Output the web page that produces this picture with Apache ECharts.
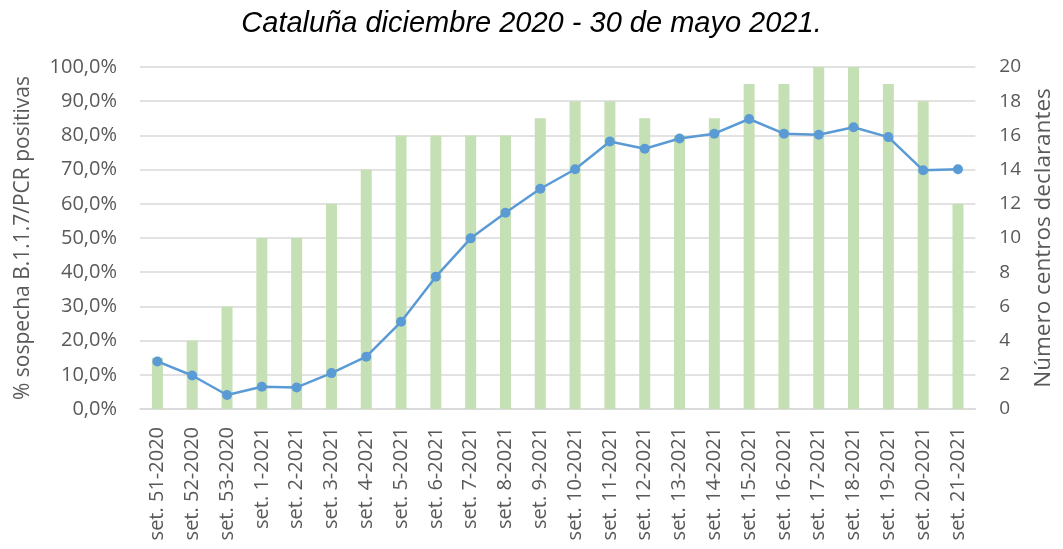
<!DOCTYPE html>
<html>
<head>
<meta charset="utf-8">
<script src="https://cdn.jsdelivr.net/npm/echarts@6/dist/echarts.min.js"></script>
<style>
  html, body { margin: 0; padding: 0; background: #fff; }
  #chart { width: 1063px; height: 549px; }
</style>
</head>
<body>
<div id="chart"></div>
<script>
// semanas
const weeks = [
  "set. 51-2020", "set. 52-2020", "set. 53-2020",
  "set. 1-2021", "set. 2-2021", "set. 3-2021", "set. 4-2021", "set. 5-2021",
  "set. 6-2021", "set. 7-2021", "set. 8-2021", "set. 9-2021", "set. 10-2021",
  "set. 11-2021", "set. 12-2021", "set. 13-2021", "set. 14-2021", "set. 15-2021",
  "set. 16-2021", "set. 17-2021", "set. 18-2021", "set. 19-2021", "set. 20-2021",
  "set. 21-2021"
];

// número de centros declarantes (eje derecho)
const centros = [3, 4, 6, 10, 10, 12, 14, 16, 16, 16, 16, 17, 18, 18, 17, 16, 17, 19, 19, 20, 20, 19, 18, 12];

// % sospecha B.1.1.7 / PCR positivas (eje izquierdo)
const sospecha = [13.9, 9.8, 4.1, 6.5, 6.3, 10.5, 15.3, 25.5, 38.7, 49.9, 57.4, 64.4, 70.1,
  78.2, 76.1, 79.1, 80.5, 84.8, 80.5, 80.2, 82.4, 79.5, 69.8, 70.1];

const FONT = "'Open Sans', 'Liberation Sans', sans-serif";
const GREY = "#595959";

const chart = echarts.init(document.getElementById("chart"));

chart.setOption({
  animation: false,
  title: {
    text: "Cataluña diciembre 2020 - 30 de mayo 2021.",
    left: "center",
    top: 4,
    textStyle: {
      fontFamily: "'Liberation Sans', Arial, sans-serif",
      fontStyle: "italic",
      fontWeight: "normal",
      fontSize: 29,
      color: "#000"
    }
  },
  grid: { left: 140, right: 81, top: 67, bottom: 140 },
  xAxis: {
    type: "category",
    data: weeks,
    axisLine: { lineStyle: { color: "#d9d9d9", width: 1.5 } },
    axisTick: { show: false },
    axisLabel: {
      rotate: 90,
      interval: 0,
      margin: 18,
      color: GREY,
      fontFamily: FONT,
      fontSize: 20
    }
  },
  yAxis: [
    {
      type: "value",
      min: 0,
      max: 100,
      interval: 10,
      name: "% sospecha B.1.1.7/PCR positivas",
      nameLocation: "middle",
      nameGap: 106,
      nameTextStyle: { color: GREY, fontFamily: FONT, fontSize: 21 },
      axisLabel: {
        color: GREY,
        fontFamily: FONT,
        fontSize: 20,
        margin: 23,
        formatter: (v) => v.toFixed(1).replace(".", ",") + "%"
      },
      splitLine: { lineStyle: { color: "#d9d9d9", width: 1.5 } },
      axisLine: { show: false },
      axisTick: { show: false }
    },
    {
      type: "value",
      min: 0,
      max: 20,
      interval: 2,
      name: "Número centros declarantes",
      nameLocation: "middle",
      nameGap: 55,
      nameRotate: 90,
      nameTextStyle: { color: GREY, fontFamily: FONT, fontSize: 22.5 },
      axisLabel: { color: GREY, fontFamily: FONT, fontSize: 19, margin: 24 },
      splitLine: { show: false },
      axisLine: { show: false },
      axisTick: { show: false }
    }
  ],
  series: [
    {
      name: "Número centros declarantes",
      type: "bar",
      yAxisIndex: 1,
      data: centros,
      barWidth: 11,
      itemStyle: { color: "#c5e0b4" }
    },
    {
      name: "% sospecha",
      type: "line",
      yAxisIndex: 0,
      data: sospecha,
      symbol: "circle",
      symbolSize: 10,
      lineStyle: { color: "#5b9bd5", width: 2.5 },
      itemStyle: { color: "#5b9bd5" },
      z: 5
    }
  ]
});
</script>
</body>
</html>
